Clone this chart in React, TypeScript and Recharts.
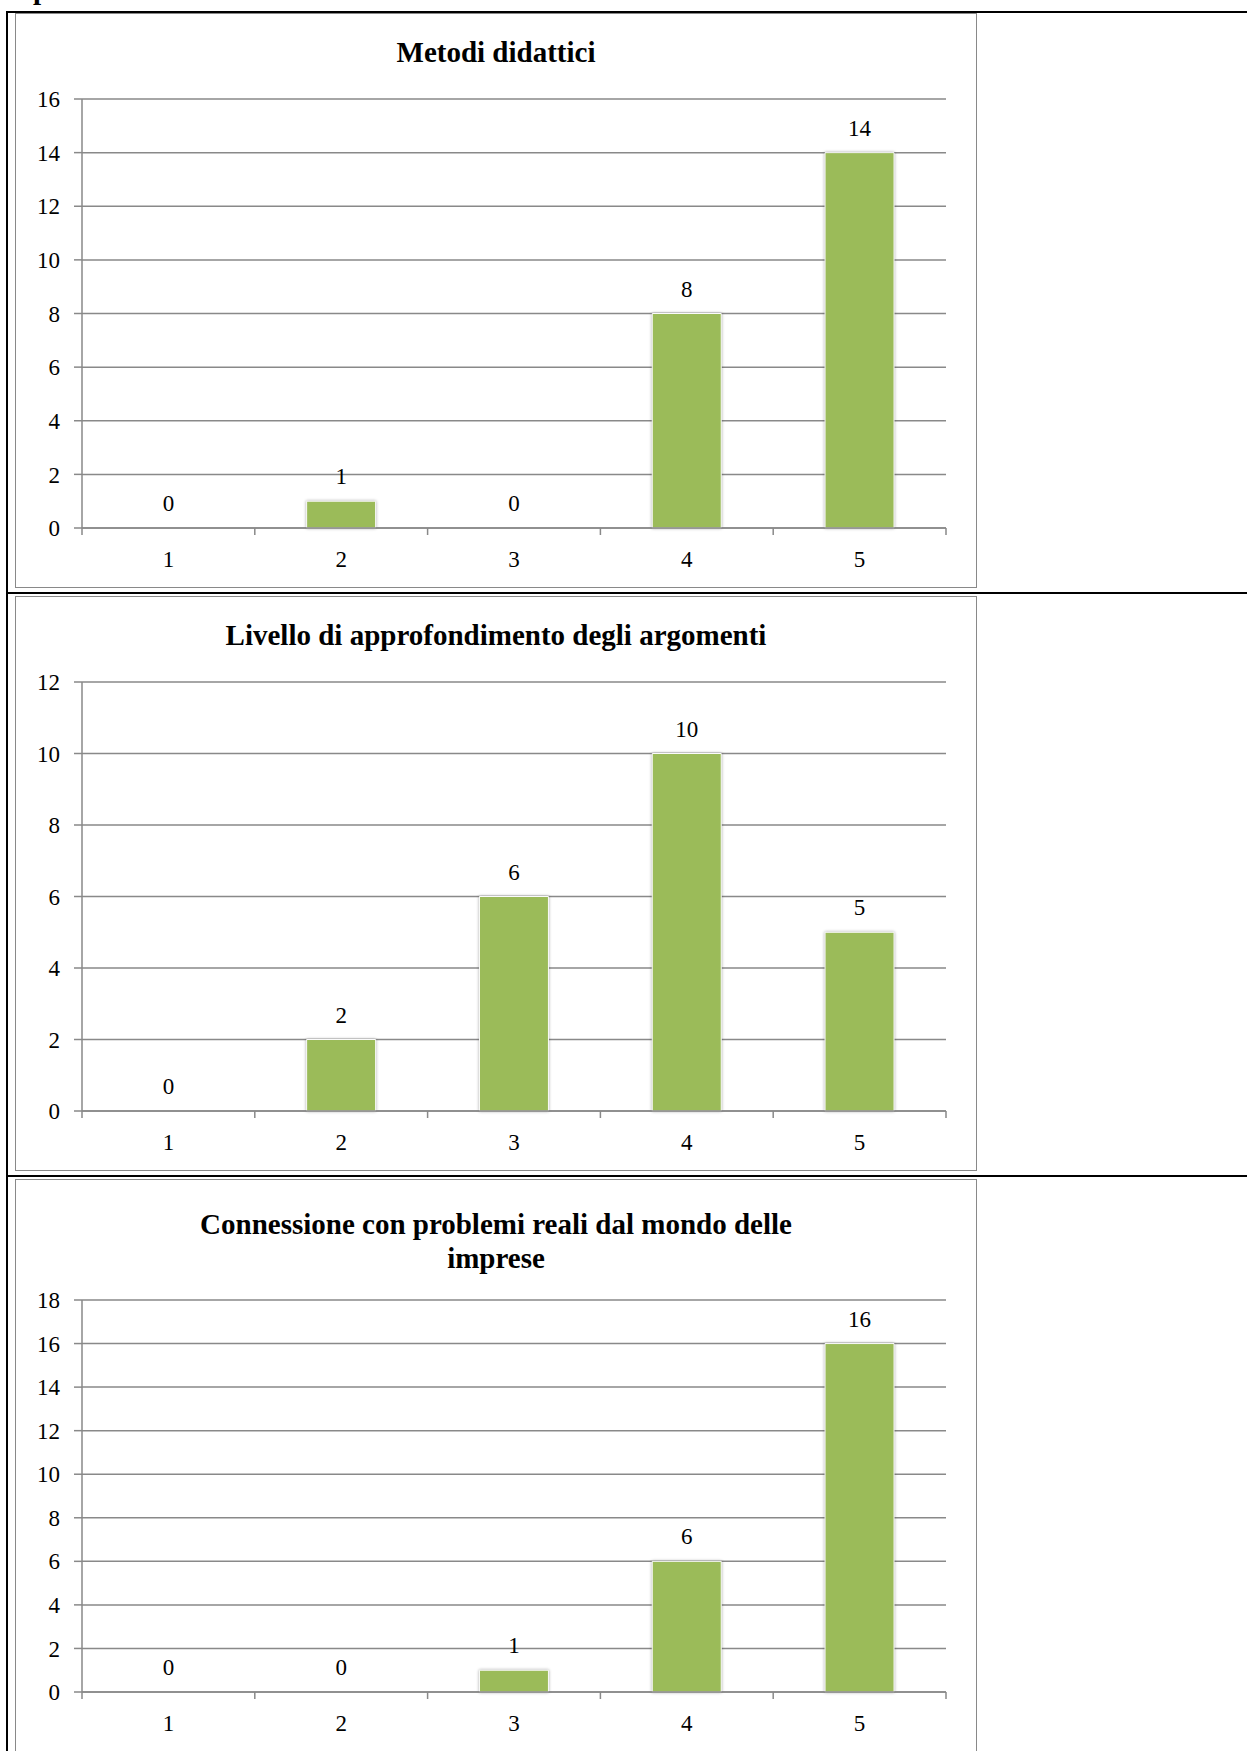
import React from 'react';
import { ComposedChart, Bar, Line, XAxis, YAxis, CartesianGrid, LabelList } from 'recharts';

// ---- data ----
const CATEGORIES = ['1', '2', '3', '4', '5'];

const METODI_TITLE = ['Metodi didattici'];
const METODI_VALUES = [0, 1, 0, 8, 14];
const METODI_TICKS = [0, 2, 4, 6, 8, 10, 12, 14, 16];

const LIVELLO_TITLE = ['Livello di approfondimento degli argomenti'];
const LIVELLO_VALUES = [0, 2, 6, 10, 5];
const LIVELLO_TICKS = [0, 2, 4, 6, 8, 10, 12];

const CONNESSIONE_TITLE = ['Connessione con problemi reali dal mondo delle', 'imprese'];
const CONNESSIONE_VALUES = [0, 0, 1, 6, 16];
const CONNESSIONE_TICKS = [0, 2, 4, 6, 8, 10, 12, 14, 16, 18];

// ---- style ----
const FONT = '"Liberation Serif", "Times New Roman", serif';
const GREEN = '#9BBB59';
const GRID = '#898989';
const CHART_LEFT = 15;
const CHART_W = 962;
const CHART_H = 575;
const Y_AXIS_W = 67;
const RIGHT_M = 31;
const PLOT_W = CHART_W - Y_AXIS_W - RIGHT_M;
const TICK_FS = 23;

const CatTick = (props: any) => {
  const { x, y, payload, index, width } = props;
  const w = typeof width === 'number' && width > 0 ? width : PLOT_W;
  const half = w / CATEGORIES.length / 2;
  return (
    <g>
      <line x1={x - half} y1={y} x2={x - half} y2={y + 7} stroke={GRID} strokeWidth={1.5} />
      {index === CATEGORIES.length - 1 && (
        <line x1={x + half} y1={y} x2={x + half} y2={y + 7} stroke={GRID} strokeWidth={1.5} />
      )}
      <text x={x} y={y + 39} textAnchor="middle" fill="#000" fontSize={TICK_FS} fontFamily={FONT}>
        {payload.value}
      </text>
    </g>
  );
};

type PanelProps = {
  top: number;
  titleLines: string[];
  titleOffset: number;
  values: number[];
  ticks: number[];
  marginTop: number;
  marginBottom: number;
};

function Panel({ top, titleLines, titleOffset, values, ticks, marginTop, marginBottom }: PanelProps) {
  const data = CATEGORIES.map((c, i) => ({ cat: c, value: values[i] }));
  return (
    <div style={{ position: 'absolute', left: CHART_LEFT, top, width: CHART_W, height: CHART_H, background: '#fff' }}>
      <ComposedChart
        width={CHART_W}
        height={CHART_H}
        data={data}
        margin={{ top: marginTop, right: RIGHT_M, bottom: marginBottom, left: 0 }}
        barCategoryGap="30%"
      >
        <CartesianGrid horizontal vertical={false} stroke={GRID} strokeWidth={1.5} />
        <XAxis
          dataKey="cat"
          height={60}
          interval={0}
          tickLine={false}
          tickSize={0}
          tickMargin={0}
          axisLine={{ stroke: GRID, strokeWidth: 1.5 }}
          tick={CatTick}
        />
        <YAxis
          width={Y_AXIS_W}
          domain={[0, ticks[ticks.length - 1]]}
          ticks={ticks}
          interval={0}
          allowDecimals={false}
          tickSize={8}
          tickMargin={14}
          axisLine={{ stroke: GRID, strokeWidth: 1.5 }}
          tickLine={{ stroke: GRID, strokeWidth: 1.5 }}
          tick={{ fill: '#000', fontSize: TICK_FS, fontFamily: FONT }}
        />
        <Bar dataKey="value" fill={GREEN} stroke="#fbfbfb" strokeWidth={1} isAnimationActive={false} />
        <Line
          dataKey="value"
          stroke="none"
          dot={false}
          activeDot={false}
          legendType="none"
          isAnimationActive={false}
        >
          <LabelList dataKey="value" position="top" offset={17} fill="#000" fontSize={TICK_FS} fontFamily={FONT} />
        </Line>
      </ComposedChart>
      <div
        style={{
          position: 'absolute',
          left: 0,
          top: titleOffset,
          width: CHART_W,
          textAlign: 'center',
          fontFamily: FONT,
          fontWeight: 'bold',
          fontSize: 29,
          lineHeight: '34px',
          color: '#000',
        }}
      >
        {titleLines.map((l, i) => (
          <div key={i}>{l}</div>
        ))}
      </div>
      <div
        style={{
          position: 'absolute',
          left: 0,
          top: 0,
          width: CHART_W,
          height: CHART_H,
          border: '1.5px solid #898989',
          boxSizing: 'border-box',
          pointerEvents: 'none',
        }}
      />
    </div>
  );
}

export default function App() {
  const black = (l: number, t: number, w: number, h: number) => ({
    position: 'absolute' as const,
    left: l,
    top: t,
    width: w,
    height: h,
    background: '#000',
  });
  return (
    <div
      style={{
        position: 'absolute',
        left: 0,
        top: 0,
        width: 1247,
        height: 1751,
        overflow: 'hidden',
        background: '#fff',
      }}
    >
      <style>{'path.recharts-rectangle{filter:drop-shadow(0px 0px 1.6px rgba(0,0,0,0.35));}'}</style>
      <svg style={{ position: 'absolute', left: 0, top: 0 }} width={80} height={12}>
        <text x={33} y={-1} fontFamily={FONT} fontWeight="bold" fontSize={29} fill="#000">
          p
        </text>
      </svg>
      <Panel
        top={13}
        titleLines={METODI_TITLE}
        titleOffset={22}
        values={METODI_VALUES}
        ticks={METODI_TICKS}
        marginTop={86}
        marginBottom={0}
      />
      <Panel
        top={596}
        titleLines={LIVELLO_TITLE}
        titleOffset={22}
        values={LIVELLO_VALUES}
        ticks={LIVELLO_TICKS}
        marginTop={86}
        marginBottom={0}
      />
      <Panel
        top={1179}
        titleLines={CONNESSIONE_TITLE}
        titleOffset={28}
        values={CONNESSIONE_VALUES}
        ticks={CONNESSIONE_TICKS}
        marginTop={121}
        marginBottom={2}
      />
      <div style={black(6, 11, 1241, 2)} />
      <div style={black(6, 11, 2, 1740)} />
      <div style={black(6, 592, 1241, 2)} />
      <div style={black(6, 1175, 1241, 2)} />
    </div>
  );
}
